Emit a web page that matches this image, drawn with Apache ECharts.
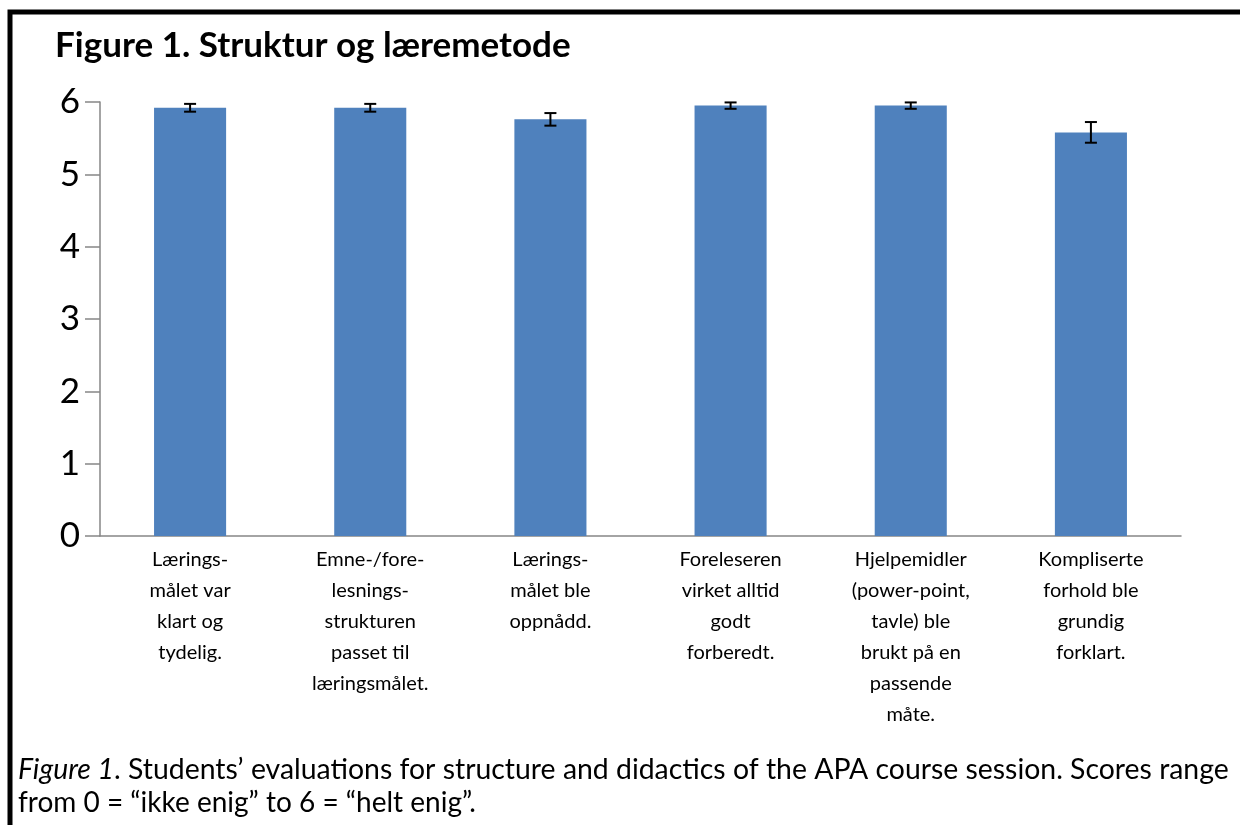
<!DOCTYPE html>
<html>
<head>
<meta charset="utf-8">
<script src="https://cdn.jsdelivr.net/npm/echarts@6/dist/echarts.min.js"></script>
<style>
  html, body { margin: 0; padding: 0; background: #fff; }
  #chart { width: 1240px; height: 825px; }
</style>
</head>
<body>
<div id="chart"></div>
<script>
// kategorier (linjeskift som i originalen)
const categories = [
  'Lærings-\nmålet var\nklart og\ntydelig.',
  'Emne-/fore-\nlesnings-\nstrukturen\npasset til\nlæringsmålet.',
  'Lærings-\nmålet ble\noppnådd.',
  'Foreleseren\nvirket alltid\ngodt\nforberedt.',
  'Hjelpemidler\n(power-point,\ntavle) ble\nbrukt på en\npassende\nmåte.',
  'Kompliserte\nforhold ble\ngrundig\nforklart.'
];
const means = [5.92, 5.92, 5.76, 5.95, 5.95, 5.58];
const errors = [0.054, 0.054, 0.087, 0.044, 0.044, 0.143];
const yTicks = [0, 1, 2, 3, 4, 5, 6];

const chart = echarts.init(document.getElementById('chart'));

// feilstolper: [indeks, nedre, øvre]
const errData = means.map(function (m, i) {
  return [i, m - errors[i], m + errors[i]];
});

const option = {
  backgroundColor: '#fff',
  animation: false,
  grid: { left: 100, right: 59, top: 102, bottom: 289 },
  xAxis: {
    type: 'category',
    data: categories,
    axisLine: { lineStyle: { color: '#868686', width: 1.5 } },
    axisTick: { length: 8, lineStyle: { color: '#868686', width: 1.5 } },
    axisLabel: {
      interval: 0,
      margin: 8,
      color: '#000',
      fontFamily: 'Lato',
      fontSize: 20,
      lineHeight: 31,
      align: 'center',
      verticalAlign: 'top'
    }
  },
  yAxis: {
    type: 'value',
    min: yTicks[0],
    max: yTicks[yTicks.length - 1],
    interval: 1,
    splitLine: { show: false },
    axisLine: { show: true, lineStyle: { color: '#868686', width: 1.5 } },
    axisTick: { show: true, length: 15, lineStyle: { color: '#868686', width: 1.5 } },
    axisLabel: {
      margin: 20,
      color: '#000',
      fontFamily: 'Lato',
      fontSize: 35
    }
  },
  series: [
    {
      type: 'bar',
      data: means,
      barWidth: '40%',
      itemStyle: { color: '#4F81BD' }
    },
    {
      type: 'custom',
      data: errData,
      z: 5,
      renderItem: function (params, api) {
        const x = api.value(0);
        const lo = api.coord([x, api.value(1)]);
        const hi = api.coord([x, api.value(2)]);
        const half = 6;
        const st = { stroke: '#000', lineWidth: 2 };
        return {
          type: 'group',
          children: [
            { type: 'line', shape: { x1: lo[0], y1: lo[1], x2: hi[0], y2: hi[1] }, style: st },
            { type: 'line', shape: { x1: lo[0] - half, y1: lo[1], x2: lo[0] + half, y2: lo[1] }, style: st },
            { type: 'line', shape: { x1: hi[0] - half, y1: hi[1], x2: hi[0] + half, y2: hi[1] }, style: st }
          ]
        };
      }
    }
  ],
  graphic: [
    {
      type: 'rect',
      shape: { x: 10, y: 12, width: 1400, height: 1000 },
      style: { fill: 'none', stroke: '#000', lineWidth: 5 },
      silent: true
    },
    {
      type: 'text',
      left: 55,
      top: 28,
      style: {
        text: 'Figure 1. Struktur og læremetode',
        fontFamily: 'Lato',
        fontWeight: 'bold',
        fontSize: 35,
        fill: '#000'
      }
    },
    {
      type: 'text',
      x: 18,
      y: 770,
      style: {
        text: '{i|Figure 1}. Students’ evaluations for structure and didactics of the APA course session. Scores range',
        verticalAlign: 'middle',
        fontFamily: 'Lato',
        fontSize: 28.4,
        fill: '#000',
        rich: { i: { fontStyle: 'italic', fontFamily: 'Lato', fontSize: 28.4 } }
      }
    },
    {
      type: 'text',
      x: 18,
      y: 803,
      style: {
        text: 'from 0 = “ikke enig” to 6 = “helt enig”.',
        verticalAlign: 'middle',
        fontFamily: 'Lato',
        fontSize: 28,
        fill: '#000'
      }
    }
  ]
};

chart.setOption(option);
</script>
</body>
</html>
